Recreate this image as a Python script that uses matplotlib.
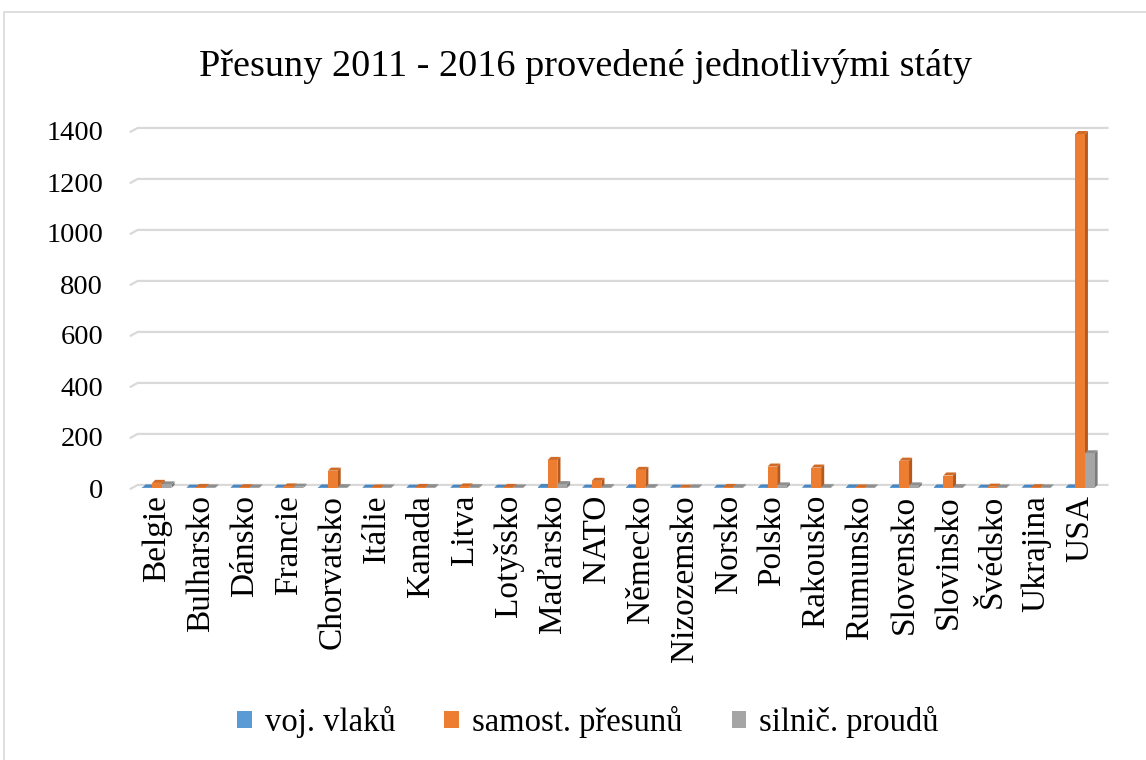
import matplotlib
matplotlib.use("Agg")
import matplotlib.pyplot as plt
from matplotlib.patches import Patch, Polygon, Rectangle
import numpy as np

plt.rcParams['font.family'] = ['Liberation Serif', 'DejaVu Serif']

categories = ["Belgie", "Bulharsko", "Dánsko", "Francie", "Chorvatsko", "Itálie",
              "Kanada", "Litva", "Lotyšsko", "Maďarsko", "NATO", "Německo",
              "Nizozemsko", "Norsko", "Polsko", "Rakousko", "Rumunsko", "Slovensko",
              "Slovinsko", "Švédsko", "Ukrajina", "USA"]
voj_vlaku = [2, 1, 1, 1, 2, 1, 1, 1, 1, 4, 1, 2, 1, 1, 2, 1, 2, 2, 2, 1, 1, 2]
samost_presunu = [20, 4, 3, 6, 68, 2, 4, 6, 4, 110, 28, 71, 1, 4, 84, 80, 2, 107, 49, 5, 3, 1388]
silnic_proudu = [14, 2, 2, 5, 3, 2, 3, 3, 2, 15, 3, 3, 2, 3, 10, 3, 2, 10, 3, 2, 2, 136]
series_names = ["voj. vlaků", "samost. přesunů", "silnič. proudů"]
yticks = [0, 200, 400, 600, 800, 1000, 1200, 1400]
title = "Přesuny 2011 - 2016 provedené jednotlivými státy"

front_colors = ["#5B9BD5", "#ED7D31", "#A5A5A5"]
side_colors = ["#3F72A0", "#B55A1C", "#7B7B7B"]
top_colors = ["#4A86C0", "#D06A25", "#8E8E8E"]

W, H = 1146, 760
fig = plt.figure(figsize=(W / 100, H / 100), dpi=100)

# chart border
fig.patches.append(Rectangle((3.5 / W, -0.02), 1.05, 1 - 12 / H + 0.02,
                             transform=fig.transFigure, fill=False,
                             edgecolor="#D9D9D9", linewidth=1.2))

ax_left, ax_right = 135 / W, 1102 / W
ax_bottom, ax_top = 1 - 488 / H, 1 - 131 / H
ax = fig.add_axes([ax_left, ax_bottom, ax_right - ax_left, ax_top - ax_bottom])
ax.set_xlim(-0.5, len(categories) - 0.5)
ax.set_ylim(0, 1400)
for s in ax.spines.values():
    s.set_visible(False)

x = np.arange(len(categories))
bw = 0.22
dx = 0.07
dy = 12

# back-wall gridlines with slanted left end
x0g = -0.62
x1g = len(categories) - 0.35
for t in yticks:
    ax.plot([x0g, x0g + 0.18, x1g], [t - 5, t + dy, t + dy], color="#D9D9D9",
            lw=1.6, zorder=0, clip_on=False, solid_capstyle="butt")

series = [voj_vlaku, samost_presunu, silnic_proudu]
offsets = [-bw, 0, bw]
for si, (vals, off) in enumerate(zip(series, offsets)):
    xs = x + off
    ax.bar(xs, vals, width=bw, color=front_colors[si], zorder=3, clip_on=False,
           label=series_names[si])
    for xi, v in zip(xs, vals):
        xr = xi + bw / 2
        xl = xi - bw / 2
        side = Polygon([(xr, 0), (xr, v), (xr + dx, v + dy), (xr + dx, dy)],
                       closed=True, facecolor=side_colors[si], edgecolor="none",
                       zorder=2.9, clip_on=False)
        top = Polygon([(xl, v), (xr, v), (xr + dx, v + dy), (xl + dx, v + dy)],
                      closed=True, facecolor=top_colors[si], edgecolor="none",
                      zorder=2.9, clip_on=False)
        ax.add_patch(side)
        ax.add_patch(top)

ax.set_yticks(yticks)
ax.set_yticklabels([str(t) for t in yticks], fontsize=20.5)
ax.set_xticks(x)
ax.set_xticklabels(categories, rotation=90, fontsize=24, va="top", ha="center")
ax.tick_params(axis="y", length=0, pad=23)
ax.tick_params(axis="x", length=0, pad=5)

fig.text(0.511, 1 - 66 / H, title, ha="center", va="center", fontsize=27.5)

handles = [Patch(facecolor=c) for c in front_colors]
fig.legend(handles, series_names, loc="center", bbox_to_anchor=(0.513, 1 - 722 / H),
           ncol=3, frameon=False, fontsize=23.5, handlelength=0.45, handleheight=0.45,
           handletextpad=0.4, columnspacing=1.5)

fig.savefig("out.png", dpi=100)
